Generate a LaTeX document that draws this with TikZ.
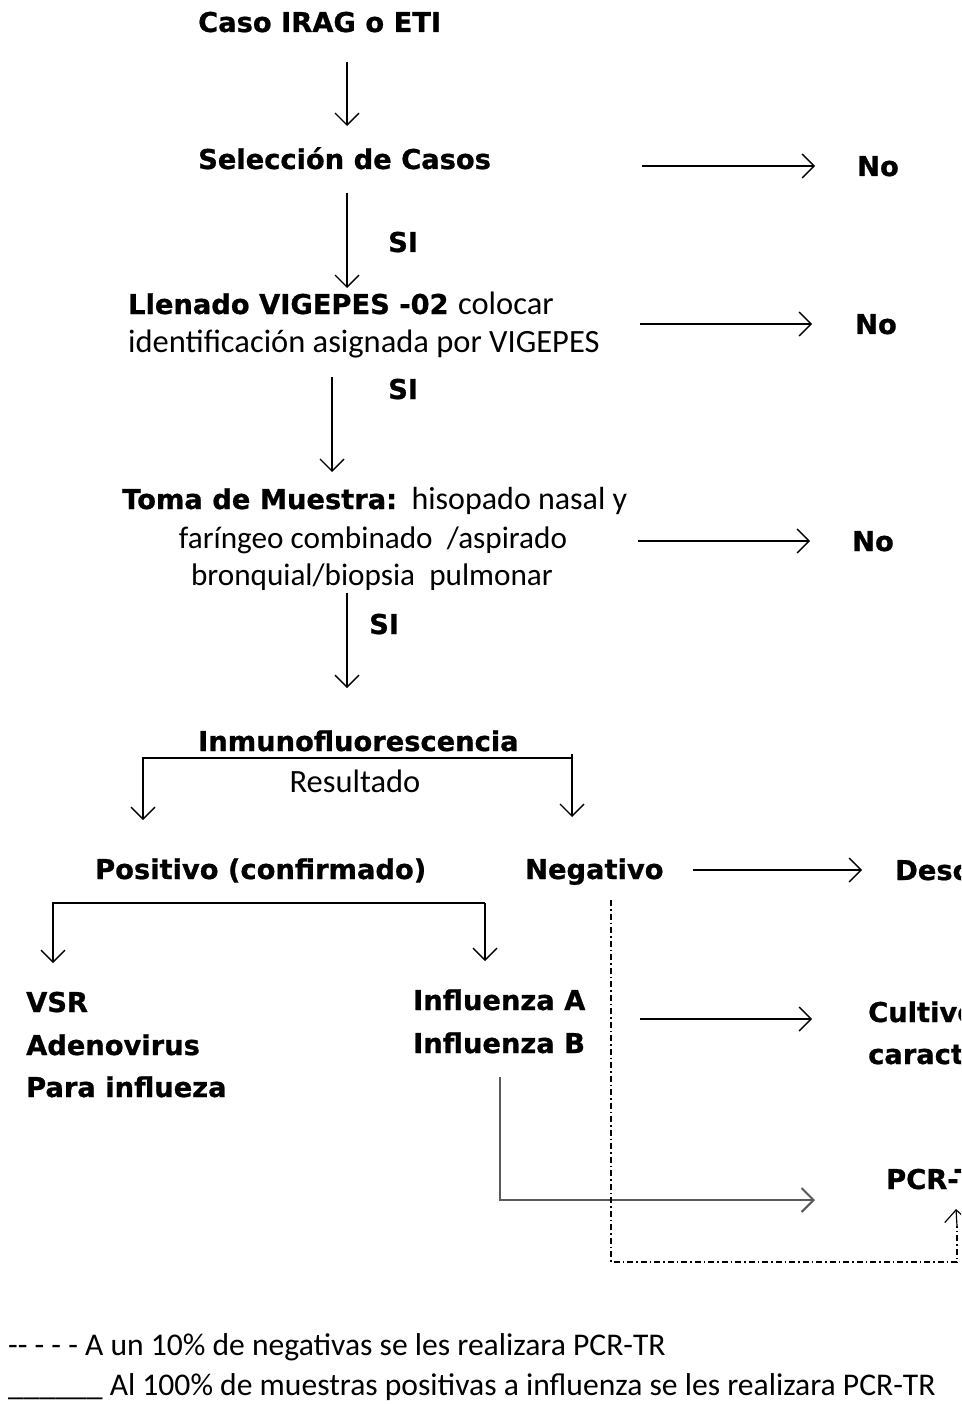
\documentclass[tikz,border=0pt]{standalone}
\usepackage{fontspec}
\setmainfont{Carlito}
\newfontfamily\tah{DejaVu Sans}[BoldFeatures={FakeBold=0.8}]
\usetikzlibrary{arrows.meta}
\tikzset{
  bt/.style={font=\tah\bfseries\fontsize{27.3}{32}\selectfont, inner sep=0pt, anchor=base west},
  rt/.style={font=\fontsize{32.5}{38}\selectfont, inner sep=0pt, anchor=base west},
  st/.style={font=\fontsize{31.2}{37}\selectfont, inner sep=0pt, anchor=base},
  lt/.style={font=\fontsize{31.6}{37}\selectfont, inner sep=0pt, anchor=base west},
  arr/.style={line width=1.4pt, -{Straight Barb[length=12pt,width=24pt]}},
  grayarr/.style={arr, draw=black!65, line width=2pt},
  dd/.style={line width=1.3pt, dash pattern=on 6pt off 3pt on 1.5pt off 3pt},
}
\begin{document}
\begin{tikzpicture}[x=1pt,y=-1pt]
\useasboundingbox (0,0) rectangle (961,1404);
\clip (0,0) rectangle (961,1404);
\fill[white] (0,0) rectangle (961,1404);

% texts
\node[bt] (caso) at (198,32) {Caso IRAG o ETI};
\node[bt] (sel) at (198,169) {Selección de Casos};
\node[bt] (no1) at (857,176) {No};
\node[bt] (si1) at (388,252) {SI};
\node[bt] (llen1) at (128,314) {Llenado VIGEPES -02 {\rmfamily\mdseries\fontsize{32.5}{38}\selectfont colocar}};
\node[rt] (llen2) at (128,352) {identificación asignada por VIGEPES};
\node[bt] (no2) at (855,334) {No};
\node[bt] (si2) at (388,399) {SI};
\node[bt] (toma1) at (122,509) {Toma de Muestra:{\rmfamily\mdseries\fontsize{32}{38}\selectfont\ \ hisopado nasal y}};
\node[st] (toma2) at (373,548) {faríngeo combinado\ \ /aspirado};
\node[st] (toma3) at (372,585) {bronquial/biopsia\ \ pulmonar};
\node[bt] (no3) at (852,551) {No};
\node[bt] (si3) at (369,634) {SI};
\node[bt] (inm) at (198,751) {Inmunofluorescencia};
\node[rt, anchor=base] (res) at (355,792) {Resultado};
\node[bt] (pos) at (95,879) {Positivo (confirmado)};
\node[bt] (neg) at (525,879) {Negativo};
\node[bt] (desc) at (895,880) {Descartado};
\node[bt] (vsr) at (26,1012) {VSR};
\node[bt] (ade) at (26,1055) {Adenovirus};
\node[bt] (par) at (26,1097) {Para influeza};
\node[bt] (infa) at (413,1010) {Influenza A};
\node[bt] (infb) at (413,1053) {Influenza B};
\node[bt] (cult) at (868,1022) {Cultivo y};
\node[bt] (carac) at (868,1064) {caracterización};
\node[bt] (pcr) at (886,1189) {PCR-TR};
\node[lt] (leg1) at (8,1355) {-{}- - - - A un 10\% de negativas se les realizara PCR-TR};
\node[lt] (leg2) at (8,1395) {\_\_\_\_\_\_ Al 100\% de muestras positivas a influenza se les realizara PCR-TR};

% connector end points
\coordinate (a1s) at (347,62);  \coordinate (a1e) at (347,126);
\coordinate (a2s) at (642,166); \coordinate (a2e) at (815,166);
\coordinate (a3s) at (347,193); \coordinate (a3e) at (347,288);
\coordinate (a4s) at (640,324); \coordinate (a4e) at (812,324);
\coordinate (a5s) at (332,377); \coordinate (a5e) at (332,472);
\coordinate (a6s) at (638,541); \coordinate (a6e) at (810,541);
\coordinate (a7s) at (347,593); \coordinate (a7e) at (347,688);
\coordinate (b1l) at (143,758); \coordinate (b1r) at (572,758);
\coordinate (b1le) at (143,820); \coordinate (b1re) at (572,817);
\coordinate (a8s) at (693,870); \coordinate (a8e) at (862,870);
\coordinate (b2l) at (53,903); \coordinate (b2r) at (485,903);
\coordinate (b2le) at (53,963); \coordinate (b2re) at (485,961);
\coordinate (a9s) at (640,1019); \coordinate (a9e) at (812,1019);
\coordinate (g1) at (500,1077); \coordinate (g2) at (500,1200); \coordinate (g3) at (815,1200);
\coordinate (d1) at (611,900); \coordinate (d2) at (611,1262); \coordinate (d3) at (957,1262);
\coordinate (d4) at (957,1226); \coordinate (d5) at (956,1209);

\draw[arr] (a1s) -- (a1e);
\draw[arr] (a2s) -- (a2e);
\draw[arr] (a3s) -- (a3e);
\draw[arr] (a4s) -- (a4e);
\draw[arr] (a5s) -- (a5e);
\draw[arr] (a6s) -- (a6e);
\draw[arr] (a7s) -- (a7e);
\draw[arr] (b1r) -- (b1l) -- (b1le);
\draw[arr] ([yshift=4pt]b1r) -- (b1re);
\draw[arr] (a8s) -- (a8e);
\draw[arr] (b2r) -- (b2l) -- (b2le);
\draw[arr] (b2r) -- (b2re);
\draw[arr] (a9s) -- (a9e);
\draw[grayarr] (g1) -- (g2) -- (g3);
\draw[dd] (d1) -- (d2) -- (d3) -- (d4);
\draw[arr, line width=1.2pt] (d4) -- (d5);
\end{tikzpicture}
\end{document}
